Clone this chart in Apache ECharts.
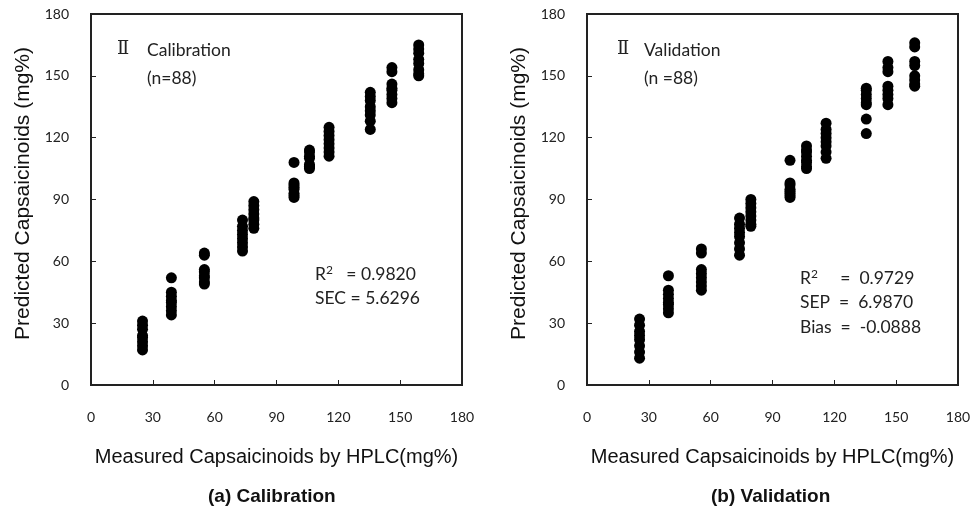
<!DOCTYPE html>
<html>
<head>
<meta charset="utf-8">
<script src="https://cdn.jsdelivr.net/npm/echarts@6/dist/echarts.min.js"></script>
<style>
  html, body { margin: 0; padding: 0; background: #fff; }
  #chart { width: 975px; height: 518px; }
</style>
</head>
<body>
<div id="chart"></div>
<script>
// measured HPLC levels (one column of dots per sample level)
var calX = [25, 39, 55, 73.5, 79, 98.5, 106, 115.5, 135.5, 146, 159];
var valX = [25.5, 39.5, 55.5, 74, 79.5, 98.5, 106.5, 116, 135.5, 146, 159];

// predicted values, 8 per level (n = 88)
var calPred = [
  [31, 29, 27, 24, 23, 21, 19, 17],
  [52, 45, 43, 41, 40, 38, 36, 34],
  [64, 63, 56, 55, 53, 52, 50, 49],
  [80, 77, 75, 73, 71, 69, 67, 65],
  [89, 87, 85, 83, 81, 80, 78, 76],
  [108, 98, 97, 96, 95, 93, 92, 91],
  [114, 113, 111, 110, 107, 106, 106, 105],
  [125, 123, 121, 119, 117, 115, 113, 111],
  [142, 140, 138, 135, 133, 131, 128, 124],
  [154, 152, 146, 144, 143, 141, 139, 137],
  [165, 163, 161, 158, 156, 153, 151, 150]
];
var valPred = [
  [32, 29, 26, 24, 22, 19, 16, 13],
  [53, 46, 44, 42, 40, 39, 37, 35],
  [66, 64, 56, 54, 52, 50, 48, 46],
  [81, 78, 76, 74, 72, 69, 66, 63],
  [90, 88, 86, 84, 82, 80, 78, 77],
  [109, 98, 97, 95, 94, 93, 92, 91],
  [116, 114, 113, 111, 109, 108, 106, 105],
  [127, 124, 122, 120, 118, 116, 113, 110],
  [144, 143, 141, 139, 137, 136, 129, 122],
  [157, 154, 152, 145, 143, 141, 139, 136],
  [166, 164, 157, 155, 150, 148, 146, 145]
];

var ticks = [0, 30, 60, 90, 120, 150, 180];

function pairs(xs, ys) {
  var out = [];
  for (var i = 0; i < xs.length; i++) {
    for (var j = 0; j < ys[i].length; j++) {
      out.push([xs[i], ys[i][j]]);
    }
  }
  return out;
}

var frame = '#222';
var tickFont = 'Lato, "Open Sans", sans-serif';
var titleFont = '"Liberation Sans", Arial, sans-serif';
var noteFont = 'Lato, "Open Sans", sans-serif';

function makeAxis(idx, isX) {
  var ax = {
    type: 'value',
    gridIndex: idx,
    min: ticks[0],
    max: ticks[ticks.length - 1],
    interval: 30,
    splitLine: { show: false },
    axisLine: { show: false },
    axisTick: { show: true, inside: true, length: 5, lineStyle: { color: frame, width: 1 } },
    axisLabel: { color: '#222', fontSize: 14, fontFamily: tickFont, margin: isX ? 25 : 22 },
    nameLocation: 'middle',
    nameTextStyle: { color: '#111', fontSize: 20, fontFamily: titleFont }
  };
  if (isX) {
    ax.name = 'Measured Capsaicinoids by HPLC(mg%)';
    ax.nameGap = 62;
  } else {
    ax.name = 'Predicted Capsaicinoids (mg%)';
    ax.nameGap = 57;
    ax.nameTextStyle.fontSize = 21;
    ax.nameTextStyle.padding = [0, 0, 0, 12];
  }
  return ax;
}

var noteRich = {
  sup: { fontSize: 12, fontFamily: noteFont, fill: '#222', verticalAlign: 'top', padding: [0, 0, 8, 0] }
};

function note(x, y, text) {
  return {
    type: 'text', left: x, top: y,
    style: { text: text, fontSize: 17.5, fontFamily: noteFont, fill: '#222', rich: noteRich }
  };
}

function numeral(x, y) {
  return {
    type: 'text', left: x, top: y,
    style: { text: 'Ⅱ', fontSize: 18, fontFamily: '"DejaVu Serif", "Liberation Serif", serif', fill: '#222' }
  };
}

var chart = echarts.init(document.getElementById('chart'));
chart.setOption({
  animation: false,
  grid: [
    { left: 91, top: 14, width: 371, height: 371, show: true, borderColor: frame, borderWidth: 2, backgroundColor: '#fff' },
    { left: 587, top: 14, width: 371, height: 371, show: true, borderColor: frame, borderWidth: 2, backgroundColor: '#fff' }
  ],
  xAxis: [makeAxis(0, true), makeAxis(1, true)],
  yAxis: [makeAxis(0, false), makeAxis(1, false)],
  series: [
    { type: 'scatter', xAxisIndex: 0, yAxisIndex: 0, symbolSize: 11, itemStyle: { color: '#000', opacity: 1 }, data: pairs(calX, calPred) },
    { type: 'scatter', xAxisIndex: 1, yAxisIndex: 1, symbolSize: 11, itemStyle: { color: '#000', opacity: 1 }, data: pairs(valX, valPred) }
  ],
  graphic: [
    numeral(117, 40),
    note(147, 41, 'Calibration'),
    note(147, 69, '(n=88)'),
    note(315, 264, 'R{sup|2}   = 0.9820'),
    note(315, 289, 'SEC = 5.6296'),
    numeral(617, 40),
    note(644, 41, 'Validation'),
    note(644, 69, '(n =88)'),
    note(800, 268, 'R{sup|2}     =  0.9729'),
    note(800, 293, 'SEP  =  6.9870'),
    note(800, 318, 'Bias  =  -0.0888'),
    { type: 'text', left: 208, top: 487, style: { text: '(a) Calibration', fontSize: 19, fontWeight: 'bold', fontFamily: titleFont, fill: '#111' } },
    { type: 'text', left: 711, top: 487, style: { text: '(b) Validation', fontSize: 19, fontWeight: 'bold', fontFamily: titleFont, fill: '#111' } }
  ]
});
</script>
</body>
</html>
